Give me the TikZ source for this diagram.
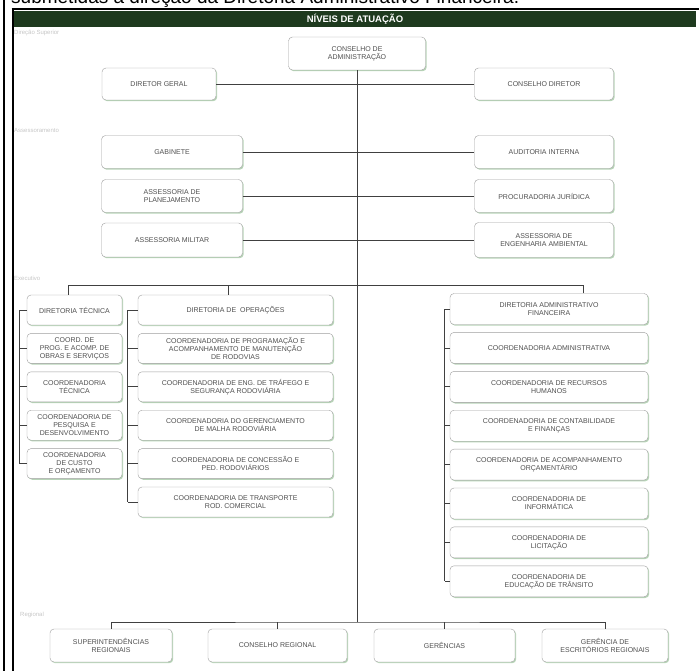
\documentclass[tikz,border=0pt]{standalone}
\usepackage{fontspec}
\setmainfont{Liberation Sans}
\usetikzlibrary{positioning}
\usetikzlibrary{shadows}
\definecolor{headgreen}{RGB}{30,58,30}
\definecolor{boxtext}{RGB}{80,80,80}
\tikzset{orgbox/.style={rectangle,rounded corners=4pt,draw=gray!75,fill=white,
inner sep=1pt,align=center,text=boxtext,font=\fontsize{7}{8}\selectfont,
drop shadow={shadow xshift=1.2pt,shadow yshift=-1.2pt,fill=green!25!gray,opacity=0.45}}}
\tikzset{orgtop/.style={orgbox,minimum width=139pt,minimum height=33pt}}
\tikzset{orgcolA/.style={orgbox,minimum width=95pt,minimum height=30pt}}
\tikzset{orgcolB/.style={orgbox,minimum width=195pt,minimum height=30pt}}
\tikzset{orgcolC/.style={orgbox,minimum width=198pt,minimum height=31pt}}
\tikzset{orgline/.style={draw=black!75,line width=0.8pt}}
\tikzset{levellabel/.style={anchor=west,text=gray!45,font=\fontsize{6}{7}\selectfont,inner sep=0pt}}

\begin{document}
\begin{tikzpicture}[x=1pt,y=-1pt]
        \useasboundingbox (0,0) rectangle (699,671);
        \clip (0,0) rectangle (699,671);

        \node[anchor=base west,inner sep=0pt,font=\fontsize{19}{22}\selectfont] (topNote) at (11,4) {submetidas à \underline{direção} da Diretoria Administrativo Financeira.};
        \node[fill=headgreen,minimum width=682pt,minimum height=16pt,inner sep=0pt,
              text=white,font=\bfseries\fontsize{9.5}{11}\selectfont] (header) at (355,19) {NÍVEIS DE ATUAÇÃO};

        \node[levellabel] (lvlSup) at (14,33) {Direção Superior};
        \node[levellabel] (lvlAss) at (14,130) {Assessoramento};
        \node[levellabel] (lvlExe) at (14,278) {Executivo};
        \node[levellabel] (lvlReg) at (20,615) {Regional};

        % direcao superior
        \node[orgtop,minimum width=137pt] (boxConsAdm) at (357,53.5) {CONSELHO DE\\ADMINISTRAÇÃO};
        \node[orgtop,minimum width=114pt,minimum height=32pt] (boxDirGeral) at (159,84) {DIRETOR GERAL};
        \node[orgtop,minimum height=32pt] (boxConsDir) at (544,84) {CONSELHO DIRETOR};

        % assessoramento
        \node[orgtop,minimum width=141pt] (boxGab) at (172,152) {GABINETE};
        \node[orgtop] (boxAudit) at (544,152) {AUDITORIA INTERNA};
        \node[orgtop,minimum width=141pt] (boxAssPlan) at (172,196) {ASSESSORIA DE\\PLANEJAMENTO};
        \node[orgtop] (boxProc) at (544,196) {PROCURADORIA JURÍDICA};
        \node[orgtop,minimum width=141pt,minimum height=34pt] (boxAssMil) at (172,240) {ASSESSORIA MILITAR};
        \node[orgtop,minimum height=35pt] (boxAssEng) at (544,240) {ASSESSORIA DE\\ENGENHARIA AMBIENTAL};

        % diretoria tecnica
        \node[orgcolA] (boxDirTec) at (74.5,310) {DIRETORIA TÉCNICA};
        \node[orgcolA] (boxObras) [below=8pt of boxDirTec] {COORD. DE\\PROG. E ACOMP. DE\\OBRAS E SERVIÇOS};
        \node[orgcolA] (boxCoordTec) [below=8pt of boxObras] {COORDENADORIA\\TÉCNICA};
        \node[orgcolA] (boxPesq) [below=8pt of boxCoordTec] {COORDENADORIA DE\\PESQUISA E\\DESENVOLVIMENTO};
        \node[orgcolA] (boxCusto) [below=8pt of boxPesq] {COORDENADORIA\\DE CUSTO\\E ORÇAMENTO};

        % diretoria de operacoes
        \node[orgcolB] (boxDirOp) at (235.5,310) {DIRETORIA DE \ OPERAÇÕES};
        \node[orgcolB] (boxManut) [below=8pt of boxDirOp] {COORDENADORIA DE PROGRAMAÇÃO E\\ACOMPANHAMENTO DE MANUTENÇÃO\\DE RODOVIAS};
        \node[orgcolB] (boxTraf) [below=8pt of boxManut] {COORDENADORIA DE ENG. DE TRÁFEGO E\\SEGURANÇA RODOVIÁRIA};
        \node[orgcolB] (boxMalha) [below=8pt of boxTraf] {COORDENADORIA DO GERENCIAMENTO\\DE MALHA RODOVIÁRIA};
        \node[orgcolB] (boxConc) [below=8pt of boxMalha] {COORDENADORIA DE CONCESSÃO E\\PED. RODOVIÁRIOS};
        \node[orgcolB] (boxTransp) [below=8pt of boxConc] {COORDENADORIA DE TRANSPORTE\\ROD. COMERCIAL};

        % diretoria administrativo financeira
        \node[orgcolC] (boxDirAdm) at (549,309) {DIRETORIA ADMINISTRATIVO\\FINANCEIRA};
        \node[orgcolC] (boxCoordAdm) [below=7.5pt of boxDirAdm] {COORDENADORIA ADMINISTRATIVA};
        \node[orgcolC] (boxRH) [below=7.5pt of boxCoordAdm] {COORDENADORIA DE RECURSOS\\HUMANOS};
        \node[orgcolC] (boxContab) [below=7.5pt of boxRH] {COORDENADORIA DE CONTABILIDADE\\E FINANÇAS};
        \node[orgcolC] (boxOrcam) [below=7.5pt of boxContab] {COORDENADORIA DE ACOMPANHAMENTO\\ORÇAMENTÁRIO};
        \node[orgcolC] (boxInfo) [below=7.5pt of boxOrcam] {COORDENADORIA DE\\INFORMÁTICA};
        \node[orgcolC] (boxLicit) [below=7.5pt of boxInfo] {COORDENADORIA DE\\LICITAÇÃO};
        \node[orgcolC] (boxEduc) [below=7.5pt of boxLicit] {COORDENADORIA DE\\EDUCAÇÃO DE TRÂNSITO};

        % regional
        \node[orgtop,minimum width=122pt] (boxSuper) at (111,645.5) {SUPERINTENDÊNCIAS\\REGIONAIS};
        \node[orgtop] (boxConsReg) at (277.5,645.5) {CONSELHO REGIONAL};
        \node[orgtop,minimum width=141pt] (boxGer) at (444.5,645.5) {GERÊNCIAS};
        \node[orgtop,minimum width=126pt] (boxGerEsc) at (605,645.5) {GERÊNCIA DE\\ESCRITÓRIOS REGIONAIS};

        \coordinate (busDir) at (583,285);
        \coordinate (busReg) at (357,622);

        \draw[orgline] (boxConsAdm.south) -- (busReg);
        \draw[orgline] (boxDirGeral.east) -- (boxConsDir.west);
        \draw[orgline] (boxGab.east) -- (boxAudit.west);
        \draw[orgline] (boxAssPlan.east) -- (boxProc.west);
        \draw[orgline] (boxAssMil.east) -- (boxAssEng.west);

        \draw[orgline] ([xshift=-6.5pt]boxDirTec.north) |- (busDir);
        \draw[orgline] ([xshift=-7.5pt]boxDirOp.north) -- ([xshift=-7.5pt]boxDirOp.north |- busDir);
        \draw[orgline] ([xshift=34pt]boxDirAdm.north) -- (busDir);

        \draw[orgline] ([xshift=-7pt]boxDirTec.west) -- ([xshift=-7pt]boxCusto.west);
        \draw[orgline] (boxDirTec.west) -- ++(-7pt,0);
        \draw[orgline] (boxObras.west) -- ++(-7pt,0);
        \draw[orgline] (boxCoordTec.west) -- ++(-7pt,0);
        \draw[orgline] (boxPesq.west) -- ++(-7pt,0);
        \draw[orgline] (boxCusto.west) -- ++(-7pt,0);

        \draw[orgline] ([xshift=-10pt]boxDirOp.west) -- ([xshift=-10pt]boxTransp.west);
        \draw[orgline] (boxDirOp.west) -- ++(-10pt,0);
        \draw[orgline] (boxManut.west) -- ++(-10pt,0);
        \draw[orgline] (boxTraf.west) -- ++(-10pt,0);
        \draw[orgline] (boxMalha.west) -- ++(-10pt,0);
        \draw[orgline] (boxConc.west) -- ++(-10pt,0);
        \draw[orgline] (boxTransp.west) -- ++(-10pt,0);

        \draw[orgline] ([xshift=-5pt]boxDirAdm.west) -- ([xshift=-5pt]boxEduc.west);
        \draw[orgline] (boxDirAdm.west) -- ++(-5pt,0);
        \draw[orgline] (boxCoordAdm.west) -- ++(-5pt,0);
        \draw[orgline] (boxRH.west) -- ++(-5pt,0);
        \draw[orgline] (boxContab.west) -- ++(-5pt,0);
        \draw[orgline] (boxOrcam.west) -- ++(-5pt,0);
        \draw[orgline] (boxInfo.west) -- ++(-5pt,0);
        \draw[orgline] (boxLicit.west) -- ++(-5pt,0);
        \draw[orgline] (boxEduc.west) -- ++(-5pt,0);

        \draw[orgline] (boxSuper.north) |- (busReg) -| (boxGerEsc.north);
        \draw[orgline] (boxConsReg.north) -- (boxConsReg.north |- busReg);
        \draw[orgline] (boxGer.north) -- (boxGer.north |- busReg);

        % page border
        \draw[line width=2pt] (3.5,0) -- (3.5,671);
        \draw[line width=2pt] (12.5,8.5) -- (12.5,671);
        \draw[line width=1.5pt] (11.5,9) -- (699,9);

\end{tikzpicture}
\end{document}
